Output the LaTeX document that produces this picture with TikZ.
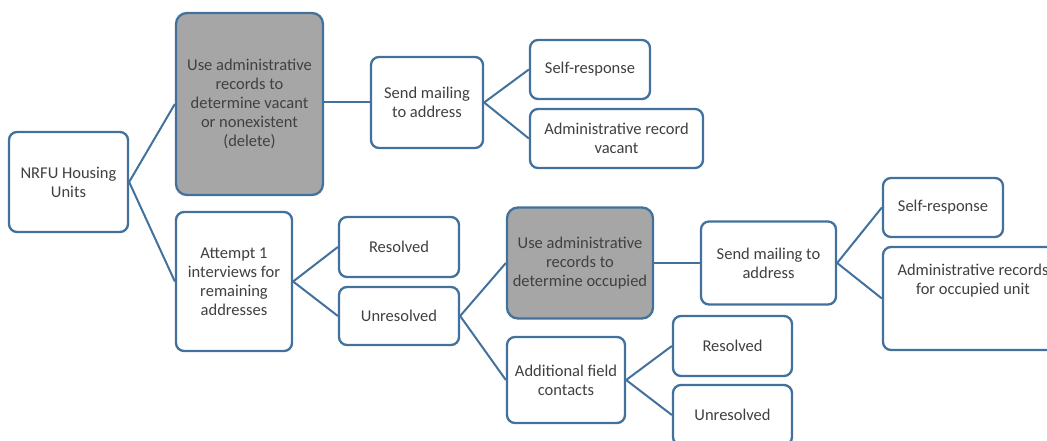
\documentclass[tikz,border=0pt]{standalone}
\usepackage{fontspec}
\setmainfont{Carlito}
\definecolor{edgeblue}{RGB}{65,113,156}
\definecolor{boxgray}{RGB}{166,166,166}
\definecolor{txt}{RGB}{64,64,64}
\begin{document}
\begin{tikzpicture}[x=1pt,y=-1pt,
  box/.style={draw=edgeblue, line width=2.3pt, rounded corners=8pt, fill=white,
    align=center, inner sep=0pt, text=txt,
    font=\fontsize{16.5}{19}\selectfont},
  graybox/.style={box, fill=boxgray, rounded corners=11pt},
  link/.style={draw=edgeblue, line width=2pt}]
\useasboundingbox (0,0) rectangle (1047,441);

% first level
\node[box, minimum width=119pt, minimum height=100pt] (nrfu) at (68.5,182) {NRFU Housing\\Units};

% upper branch: records for vacant / nonexistent
\node[graybox, minimum width=147pt, minimum height=182pt] (delete) at (249.5,104) {Use administrative\\records to\\determine vacant\\or nonexistent\\(delete)};
\node[box, minimum width=112pt, minimum height=91pt] (mailA) at (427,102.5) {Send mailing\\to address};
\node[box, minimum width=120pt, minimum height=59pt] (selfA) at (590,69.5) {Self-response};
\node[box, minimum width=173pt, minimum height=59pt] (vacant) at (616.5,138.5) {Administrative record\\vacant};

% lower branch: interviews
\node[box, minimum width=116pt, minimum height=139pt] (attempt) at (234,281.5) {Attempt 1\\interviews for\\remaining\\addresses};
\node[box, minimum width=120pt, minimum height=60pt] (resA) at (399,247) {Resolved};
\node[box, minimum width=120pt, minimum height=58pt] (unresA) at (399,316) {Unresolved};

% records for occupied units
\node[graybox, minimum width=146pt, minimum height=111pt] (occupied) at (580,263) {Use administrative\\records to\\determine occupied};
\node[box, minimum width=135pt, minimum height=83pt] (mailB) at (768.5,263) {Send mailing to\\address};
\node[box, minimum width=120pt, minimum height=59pt] (selfB) at (943,207.5) {Self-response};
\node[box, minimum width=180pt, minimum height=103pt] (occunit) at (973,298.5) {Administrative records\\for occupied unit\\[19pt]};

% further field work
\node[box, minimum width=118pt, minimum height=86pt] (field) at (566,380) {Additional field\\contacts};
\node[box, minimum width=119pt, minimum height=60pt] (resB) at (732.5,346) {Resolved};
\node[box, minimum width=119pt, minimum height=60pt] (unresB) at (732.5,415) {Unresolved};

% connectors
\draw[link] (nrfu.east) -- (delete.west);
\draw[link] (nrfu.east) -- (attempt.west);
\draw[link] (delete.east |- mailA.west) -- (mailA.west);
\draw[link] (mailA.east) -- (selfA.west);
\draw[link] (mailA.east) -- (vacant.west);
\draw[link] (attempt.east) -- (resA.west);
\draw[link] (attempt.east) -- (unresA.west);
\draw[link] (unresA.east) -- (occupied.west);
\draw[link] (unresA.east) -- (field.west);
\draw[link] (occupied.east) -- (mailB.west);
\draw[link] (mailB.east) -- (selfB.west);
\draw[link] (mailB.east) -- (occunit.west);
\draw[link] (field.east) -- (resB.west);
\draw[link] (field.east) -- (unresB.west);
\end{tikzpicture}
\end{document}
